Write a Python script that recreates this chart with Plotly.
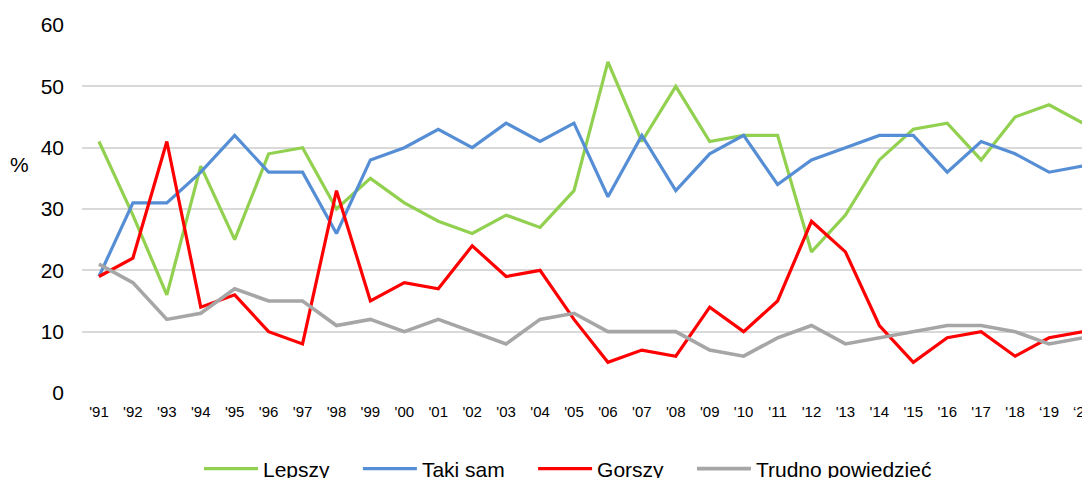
import plotly.graph_objects as go

years = ["'91", "'92", "'93", "'94", "'95", "'96", "'97", "'98", "'99", "'00",
         "'01", "'02", "'03", "'04", "'05", "'06", "'07", "'08", "'09", "'10",
         "'11", "'12", "'13", "'14", "'15", "'16", "'17", "'18", "‘19", "‘20"]

lepszy = [41, 29, 16, 37, 25, 39, 40, 30, 35, 31, 28, 26, 29, 27, 33,
          54, 41, 50, 41, 42, 42, 23, 29, 38, 43, 44, 38, 45, 47, 44]
taki_sam = [19, 31, 31, 36, 42, 36, 36, 26, 38, 40, 43, 40, 44, 41, 44,
            32, 42, 33, 39, 42, 34, 38, 40, 42, 42, 36, 41, 39, 36, 37]
gorszy = [19, 22, 41, 14, 16, 10, 8, 33, 15, 18, 17, 24, 19, 20, 12,
          5, 7, 6, 14, 10, 15, 28, 23, 11, 5, 9, 10, 6, 9, 10]
trudno = [21, 18, 12, 13, 17, 15, 15, 11, 12, 10, 12, 10, 8, 12, 13,
          10, 10, 10, 7, 6, 9, 11, 8, 9, 10, 11, 11, 10, 8, 9]

pad = "\u00a0\u00a0\u00a0\u00a0"
series = [
    ("Lepszy" + pad, lepszy, "#92D050", 3.2),
    ("Taki sam" + pad, taki_sam, "#558ED5", 3.2),
    ("Gorszy" + pad, gorszy, "#FF0000", 3.2),
    ("Trudno powiedzieć", trudno, "#A6A6A6", 3.6),
]

x_idx = list(range(len(years)))

fig = go.Figure()
for name, vals, color, w in series:
    fig.add_trace(go.Scatter(x=x_idx, y=vals, mode="lines", name=name,
                             line=dict(color=color, width=w)))

font_family = "Liberation Sans, Arial, sans-serif"

# page has an 8px body margin; margins below compensate for it
L, T, B = 74, 17, 93
plot_w = 1090 - L
px_per_cat = 33.93
x_max = -0.5 + plot_w / px_per_cat

fig.update_layout(
    width=1090, height=478,
    margin=dict(l=L, r=0, t=T, b=B, autoexpand=False),
    plot_bgcolor="white", paper_bgcolor="white",
    font=dict(family=font_family, color="#000000"),
    showlegend=True,
    legend=dict(orientation="h", x=(205 - 6 - 82) / plot_w, xanchor="left",
                y=-0.2065, yanchor="middle",
                font=dict(size=21, family=font_family, color="#000000"),
                itemwidth=54, traceorder="normal", bgcolor="rgba(0,0,0,0)"),
    xaxis=dict(
        tickmode="array", tickvals=x_idx, ticktext=years,
        range=[-0.5, x_max], showgrid=False, zeroline=False, showline=False,
        ticks="", tickfont=dict(size=15), ticklabelstandoff=8,
        ticklabeloverflow="allow", automargin=False,
    ),
    yaxis=dict(
        range=[0, 60], tickmode="array", tickvals=[0, 10, 20, 30, 40, 50, 60],
        showgrid=True, gridcolor="#D9D9D9", gridwidth=2, zeroline=False,
        showline=False, ticks="", tickfont=dict(size=21), ticklabelstandoff=17,
        automargin=False,
    ),
    annotations=[dict(text="%", xref="paper", yref="y", x=(19 - 82) / plot_w, y=37.2,
                      showarrow=False, font=dict(size=21), xanchor="center", yanchor="middle")],
)

fig.write_html("out.html")
